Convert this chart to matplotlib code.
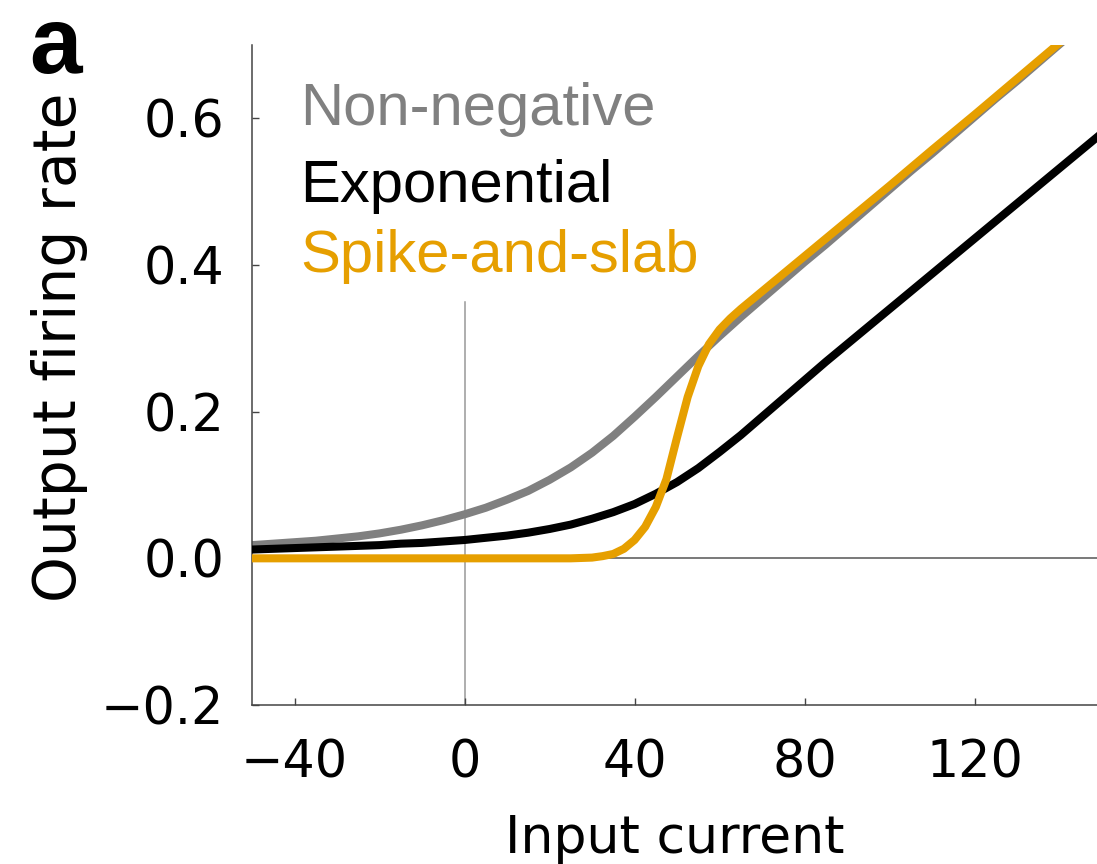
import matplotlib
matplotlib.use("Agg")
import matplotlib.pyplot as plt

# Valores (corrente de entrada vs. taxa de disparo)
x_comum = [-50, -45, -40, -35, -30, -25, -20, -15, -10, -5, 0, 5, 10, 15, 20, 25,
           30, 35, 40, 45, 50, 55, 60, 65, 70, 75, 80, 85, 90, 95, 100, 105, 110,
           115, 120, 125, 130, 135, 140, 145, 150]

nao_negativa = [0.018, 0.020, 0.022, 0.024, 0.027, 0.030, 0.034, 0.039, 0.045, 0.052,
                0.060, 0.069, 0.080, 0.092, 0.107, 0.124, 0.144, 0.167, 0.193, 0.220,
                0.248, 0.276, 0.303, 0.329, 0.354, 0.379, 0.404, 0.428, 0.453, 0.478,
                0.503, 0.528, 0.552, 0.577, 0.602, 0.627, 0.651, 0.676, 0.701, 0.726,
                0.750]

exponencial = [0.012, 0.013, 0.014, 0.015, 0.016, 0.017, 0.018, 0.020, 0.021, 0.023,
               0.025, 0.028, 0.031, 0.035, 0.040, 0.046, 0.054, 0.063, 0.074, 0.088,
               0.104, 0.123, 0.145, 0.168, 0.193, 0.218, 0.243, 0.268, 0.292, 0.316,
               0.340, 0.364, 0.388, 0.412, 0.436, 0.460, 0.484, 0.508, 0.532, 0.556,
               0.580]

x_spike = [-50, -25, 0, 25, 30, 32.5, 35, 37.5, 40, 42.5, 45, 47.5, 50, 52.5, 55,
           57.5, 60, 62.5, 65, 70, 75, 80, 90, 100, 110, 120, 130, 140, 150]
spike_slab = [0.0, 0.0, 0.0, 0.0, 0.001, 0.003, 0.006, 0.013, 0.025, 0.043, 0.070,
              0.108, 0.165, 0.220, 0.262, 0.292, 0.312, 0.327, 0.340, 0.364, 0.388,
              0.412, 0.460, 0.508, 0.557, 0.605, 0.654, 0.703, 0.752]

nomes = ["Non-negative", "Exponential", "Spike-and-slab"]
cores = ["#808080", "#000000", "#E69F00"]

fig = plt.figure(figsize=(10.97, 8.64), dpi=100)
ax = fig.add_axes([252/1097, 1 - 705/864, 845/1097, 660/864])

# Linhas de referência
ax.axhline(0, color="#555555", linewidth=1.1, zorder=1)
ax.plot([0, 0], [-0.2, 0.35], color="#999999", linewidth=1.1, zorder=1)

ax.plot(x_comum, nao_negativa, color=cores[0], linewidth=5.8, zorder=2)
ax.plot(x_comum, exponencial, color=cores[1], linewidth=5.8, zorder=3)
ax.plot(x_spike, spike_slab, color=cores[2], linewidth=5.8, zorder=4)

ax.set_xlim(-50, 148.8)
ax.set_ylim(-0.2, 0.7)
ax.set_xticks([-40, 0, 40, 80, 120])
ax.set_yticks([-0.2, 0.0, 0.2, 0.4, 0.6])
ax.set_yticklabels(["\u22120.2", "0.0", "0.2", "0.4", "0.6"])

for lado in ["top", "right"]:
    ax.spines[lado].set_visible(False)
for lado in ["left", "bottom"]:
    ax.spines[lado].set_color("#444444")
    ax.spines[lado].set_linewidth(1.1)

ax.tick_params(axis="both", direction="in", length=5, width=1, color="#444444",
               labelsize=36.5)
ax.tick_params(axis="y", pad=20)
ax.tick_params(axis="x", pad=24)

ax.set_ylabel("Output firing rate", fontsize=42)
ax.set_xlabel("Input current", fontsize=37.5)
ax.yaxis.set_label_coords(-0.194, 0.542)
ax.xaxis.set_label_coords(0.5, -0.165)

# Legenda em texto colorido
ys = [0.879, 0.762, 0.656]
for nome, cor, y in zip(nomes, cores, ys):
    ax.text(0.0568, y, nome, color=cor, fontsize=43, family="Liberation Sans",
            transform=ax.transAxes, va="baseline", ha="left")

fig.text(29/1097, 1 - 73/864, "a", fontsize=68, fontweight="bold",
         family="Liberation Sans", va="baseline", ha="left")

fig.savefig("out.png", dpi=100)
